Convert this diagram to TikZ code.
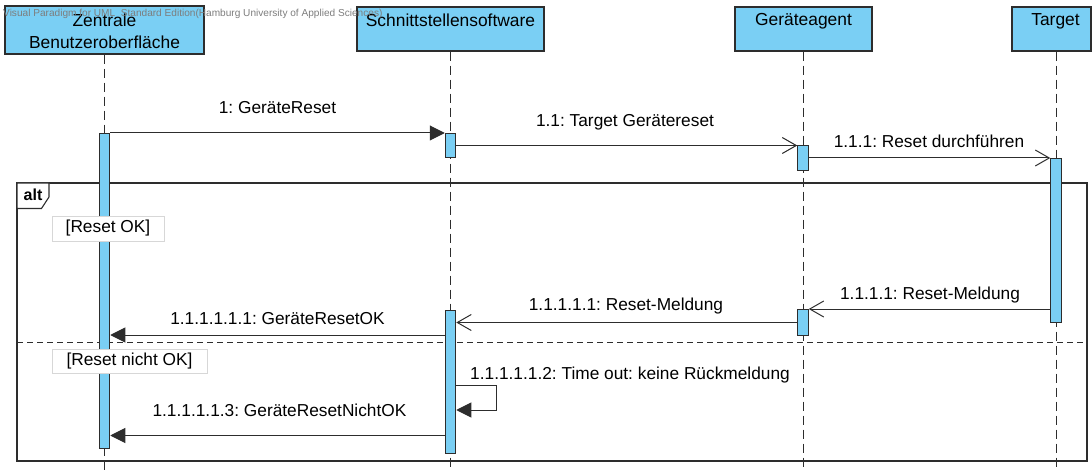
\documentclass[tikz,border=0pt]{standalone}
\usepackage{fontspec}
\setmainfont{Liberation Sans}
\usetikzlibrary{arrows.meta}
\frenchspacing
\definecolor{lifefill}{RGB}{122,207,244}
\definecolor{ink}{RGB}{45,45,45}
\definecolor{wmgray}{RGB}{125,125,125}
\definecolor{guardline}{RGB}{215,215,215}
\tikzset{
  headbox/.style={draw=ink, line width=1.1pt, fill=lifefill, inner sep=0pt},
  headtext/.style={font=\fontsize{17.4}{22}\selectfont, text=black, inner sep=0pt, anchor=base, align=center},
  lifeline/.style={draw=ink, line width=1pt, dash pattern=on 9pt off 5pt},
  actbar/.style={draw=ink, line width=1pt, fill=lifefill, inner sep=0pt, minimum width=10.5pt, anchor=north},
  syncmsg/.style={draw=ink, line width=1pt, -{Triangle[length=15pt,width=15pt]}},
  asyncmsg/.style={draw=ink, line width=1pt, -{Straight Barb[length=14pt,width=16pt,line width=1pt]}},
  msgtext/.style={font=\fontsize{17.3}{20}\selectfont, text=black, inner sep=0pt, anchor=base},
  guardbox/.style={draw=guardline, line width=0.8pt, fill=white, inner sep=0pt, font=\fontsize{17.3}{20}\selectfont},
  framebox/.style={draw=ink, line width=1.1pt},
  sepline/.style={draw=ink, line width=1pt, dash pattern=on 6pt off 4pt},
}
\begin{document}
\begin{tikzpicture}[x=1pt,y=-1pt]
\useasboundingbox (0,0) rectangle (1092,470);

% lifeline heads
\node[headbox, minimum width=199pt, minimum height=48pt] (zb) at (104.5,30) {};
\node[headbox, minimum width=187pt, minimum height=44pt] (ss) at (450.5,29) {};
\node[headbox, minimum width=137pt, minimum height=44pt] (ga) at (803.5,29) {};
\node[headbox, minimum width=79pt, minimum height=44pt] (tg) at (1051.5,29) {};

\node[headtext] (zbt) at (104.5,49) {Zentrale\\Benutzeroberfläche};
\node[headtext] (sst) at (450.5,27) {Schnittstellensoftware};
\node[headtext] (gat) at (803.5,26) {Geräteagent};
\node[headtext] (tgt) at (1055.5,26) {Target};

% lifeline ends
\coordinate (zbEnd) at (104,470);
\coordinate (ssEnd) at (450.5,470);
\coordinate (gaEnd) at (803,470);
\coordinate (tgEnd) at (1056,470);

\draw[lifeline] (zb.south -| zbEnd) -- (zbEnd);
\draw[lifeline] (ss.south -| ssEnd) -- (ssEnd);
\draw[lifeline] (ga.south -| gaEnd) -- (gaEnd);
\draw[lifeline] (tg.south -| tgEnd) -- (tgEnd);

% combined fragment
\coordinate (frNW) at (17,183);
\coordinate (frSE) at (1087,461);
\draw[framebox] (frNW) rectangle (frSE);
\coordinate (sepL) at (17,342);
\coordinate (sepR) at (1087,342);
\draw[sepline] (sepL) -- (sepR);
\draw[framebox, fill=white] (17,183) -- (49,183) -- (49,197) -- (41.5,208.5) -- (17,208.5) -- cycle;
\node[font=\fontsize{16}{20}\selectfont\bfseries, inner sep=0pt, anchor=base] (altlabel) at (33,201) {alt};

% activation bars
\node[actbar, minimum height=315pt] (zbA) at (104.5,133) {};
\node[actbar, minimum height=24pt] (ssA1) at (450.5,133) {};
\node[actbar, minimum height=143pt] (ssA2) at (450.5,310) {};
\node[actbar, minimum height=25pt] (gaA1) at (803,145.5) {};
\node[actbar, minimum height=26pt] (gaA2) at (803,309) {};
\node[actbar, minimum height=164pt] (tgA) at (1056,158) {};

% guards
\node[guardbox, minimum width=112pt, minimum height=25pt] (g1) at (108,228.5) {[Reset OK]};
\node[guardbox, minimum width=155pt, minimum height=24pt] (g2) at (129.5,361) {[Reset nicht OK]};

% messages
\draw[syncmsg] (zbA.north east) -- (ssA1.north west);
\draw[asyncmsg] (gaA1.north west -| ssA1.east) -- (gaA1.north west);
\draw[asyncmsg] (tgA.north west -| gaA1.east) -- (tgA.north west);
\draw[asyncmsg] (gaA2.north east -| tgA.west) -- (gaA2.north east);
\draw[asyncmsg] (gaA2.west) -- (gaA2.west -| ssA2.east);
\draw[syncmsg] (ssA2.west |- 0,335) -- (zbA.east |- 0,335);
\coordinate (selfA) at (496,385);
\coordinate (selfB) at (496,410);
\draw[syncmsg] (ssA2.east |- selfA) -- (selfA) -- (selfB) -- (ssA2.east |- selfB);
\draw[syncmsg] (ssA2.west |- 0,435.5) -- (zbA.east |- 0,435.5);

% message labels
\node[msgtext] (l1) at (277.5,114) {1: GeräteReset};
\node[msgtext] (l2) at (625,127) {1.1: Target Gerätereset};
\node[msgtext] (l3) at (929,147.5) {1.1.1: Reset durchführen};
\node[msgtext] (l4) at (930,299) {1.1.1.1: Reset-Meldung};
\node[msgtext] (l5) at (626,311) {1.1.1.1.1: Reset-Meldung};
\node[msgtext] (l6) at (277.5,324) {1.1.1.1.1.1: GeräteResetOK};
\node[msgtext] (l7) at (630,379.5) {1.1.1.1.1.2: Time out: keine Rückmeldung};
\node[msgtext] (l8) at (279.5,416) {1.1.1.1.1.3: GeräteResetNichtOK};

% edition notice
\node[font=\fontsize{10.1}{12}\selectfont, text=wmgray, inner sep=0pt, anchor=base west] (wm) at (3,16.5) {Visual Paradigm for UML\ \ Standard Edition(Hamburg University of Applied Sciences)};
\end{tikzpicture}
\end{document}
